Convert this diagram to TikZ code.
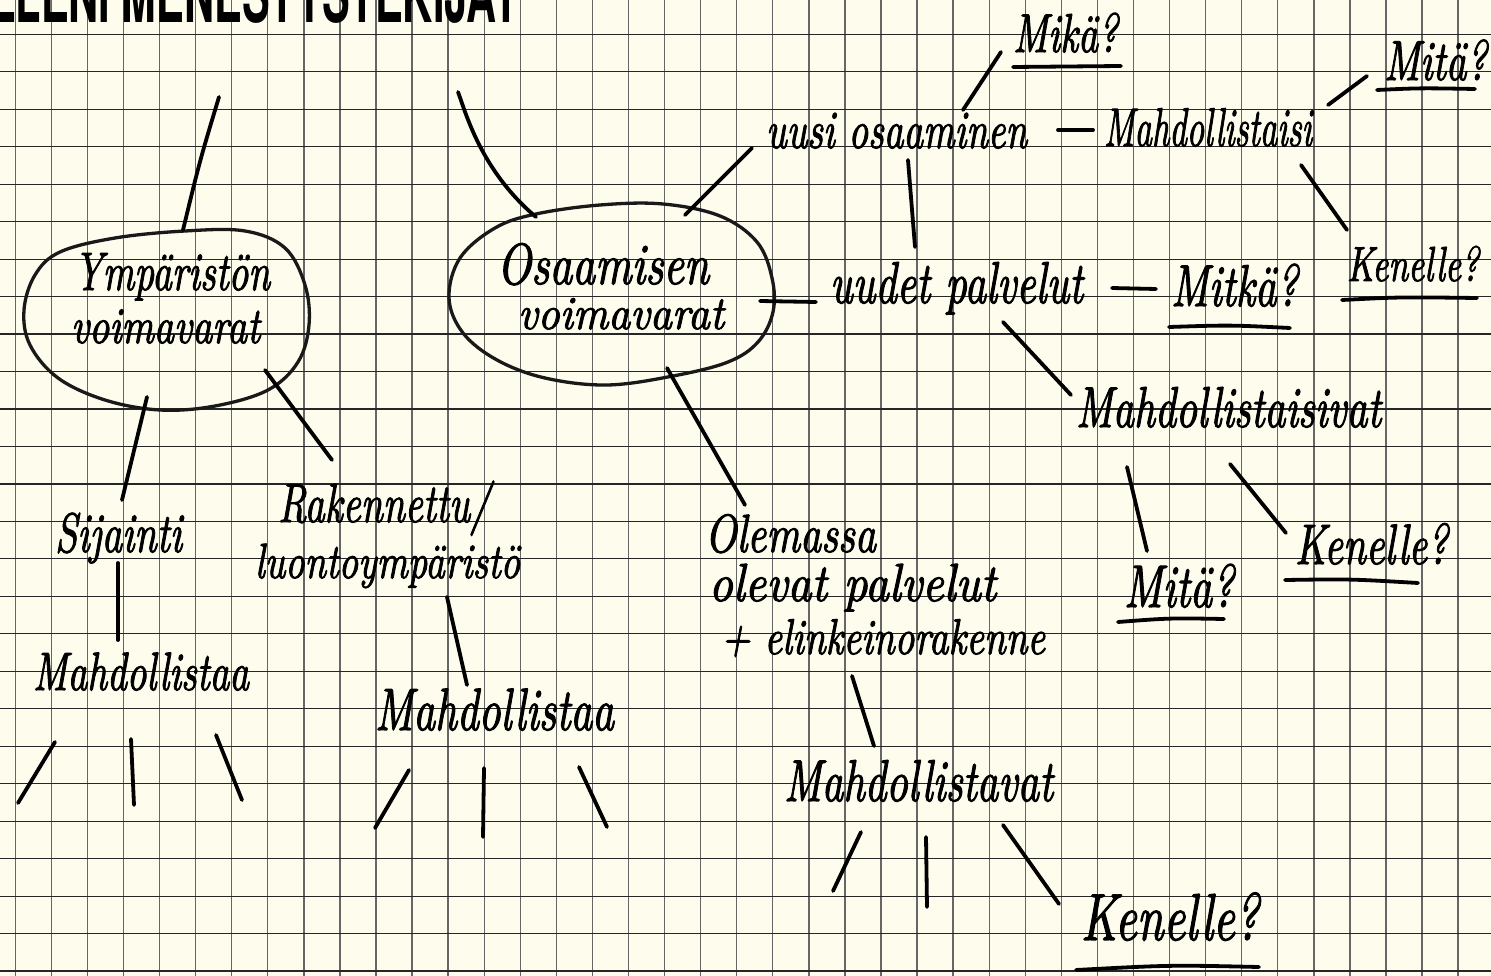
\documentclass[tikz,border=0pt]{standalone}
\usepackage{fontspec}
\newfontfamily\titlefont{TeX Gyre Heros}
\newfontfamily\handfont{lmroman10-italic.otf}[FakeBold=2]
\definecolor{paper}{HTML}{FEFCEC}
\newcommand{\hw}[3][1.4]{\resizebox{#2pt}{!}{\scalebox{1}[#1]{\handfont #3}}}
\begin{document}
\begin{tikzpicture}[x=1pt,y=-1pt,
  hgrid/.style={draw=black!85, line width=1.2pt},
  vgrid/.style={draw=black!60, line width=1.4pt},
  pen/.style={line width=3.8pt, line cap=round, line join=round, draw=black},
  blob/.style={line width=3.3pt, draw=black!90, line join=round},
  uline/.style={line width=3.8pt, line cap=round, draw=black},
  hand/.style={anchor=base west, inner sep=0pt, outer sep=0pt},
]
\useasboundingbox (0,0) rectangle (1491,976);
\clip (0,0) rectangle (1491,976);
\fill[paper] (0,0) rectangle (1491,976);
\foreach \i in {0,...,41} \draw[vgrid] ({15.3+36.07*\i},0) -- ({15.3+36.07*\i},976);
\foreach \j in {0,...,25} \draw[hgrid] (0,{34.3+37.47*\j}) -- (1491,{34.3+37.47*\j});

% title (cut off at the top)
\node[anchor=base west, inner sep=0pt] (title) at (-40,23)
  {\scalebox{0.52}[1]{\titlefont\bfseries\fontsize{80}{80}\selectfont ULLENI MENESTYSTEKIJÄT}};

% blobs
\draw[blob] plot[smooth cycle, tension=0.6] coordinates {(185,231) (245,231) (285,248) (305,285) (309,325) (298,362) (268,390) (215,406) (160,410) (105,400) (58,378) (30,345) (24,310) (35,275) (60,252) (115,238)};
\draw[blob] plot[smooth cycle, tension=0.6] coordinates {(536,214) (600,205) (663,204) (720,216) (757,242) (772,278) (773,312) (758,342) (728,362) (673,376) (607,385) (545,378) (497,360) (463,333) (449,298) (460,258) (495,228)};

% texts
\node[hand] (ymp) at (74,290) {\hw{196}{Ympäristön}};
\node[hand] (voim1) at (71,343) {\hw[1.3]{189}{voimavarat}};
\node[hand] (osa) at (497,284) {\hw[1.3]{212}{Osaamisen}};
\node[hand] (voim2) at (518,329) {\hw[1.1]{206}{voimavarat}};
\node[hand] (uusi) at (766,148) {\hw{261}{uusi osaaminen}};
\node[hand] (mika) at (1013,52) {\hw{105}{Mikä?}};
\node[hand] (mahd1) at (1104,146) {\hw[1.6]{208}{Mahdollistaisi}};
\node[hand] (mita1) at (1384,80) {\hw{103}{Mitä?}};
\node[hand] (ken1) at (1347,281) {\hw{132}{Kenelle?}};
\node[hand] (uudet) at (830,303) {\hw{253}{uudet palvelut}};
\node[hand] (mitka) at (1171,306) {\hw{127}{Mitkä?}};
\node[hand] (mahd2) at (1076,427) {\hw{305}{Mahdollistaisivat}};
\node[hand] (mita2) at (1124,607) {\hw{110}{Mitä?}};
\node[hand] (ken2) at (1295,564) {\hw{153}{Kenelle?}};
\node[hand] (ole1) at (705,552) {\hw[1.3]{171}{Olemassa}};
\node[hand] (ole2) at (709,601) {\hw[1.15]{287}{olevat palvelut}};
\node[hand] (ole3) at (721,654) {\hw[1.3]{324}{+ elinkeinorakenne}};
\node[hand] (mahd3) at (784,801) {\hw{269}{Mahdollistavat}};
\node[hand] (ken3) at (1081,940) {\hw{178}{Kenelle?}};
\node[hand] (sij) at (55,552) {\hw{127}{Sijainti}};
\node[hand] (mahd4) at (33,690) {\hw{216}{Mahdollistaa}};
\node[hand] (rak) at (278,522) {\hw{212}{Rakennettu/}};
\node[hand] (luon) at (255,578) {\hw[1.3]{265}{luontoympäristö}};
\node[hand] (mahd5) at (375,730) {\hw{239}{Mahdollistaa}};

% underlines
\draw[uline] (1013,67) -- (1121,66);
\draw[uline] (1377,90) .. controls (1420,88) .. (1475,89);
\draw[uline] (1342,300) .. controls (1400,297) .. (1477,298);
\draw[uline] (1169,327) .. controls (1230,325) .. (1290,328);
\draw[uline] (1118,622) .. controls (1170,618) .. (1224,619);
\draw[uline] (1285,580) .. controls (1350,579) .. (1418,583);
\draw[uline] (1076,970) .. controls (1170,965) .. (1259,967);

% connector end points
\coordinate (a1) at (183,230); \coordinate (a2) at (219,97);
\coordinate (b1) at (536,217); \coordinate (b2) at (458,92);
\coordinate (c1) at (685,215); \coordinate (c2) at (752,148);
\coordinate (d1) at (963,110); \coordinate (d2) at (1001,52);
\coordinate (e1) at (1058,130); \coordinate (e2) at (1093,130);
\coordinate (f1) at (1328,105); \coordinate (f2) at (1367,76);
\coordinate (g1) at (1301,165); \coordinate (g2) at (1347,230);
\coordinate (h1) at (908,160); \coordinate (h2) at (915,247);
\coordinate (i1) at (760,301); \coordinate (i2) at (816,302);
\coordinate (j1) at (1112,288); \coordinate (j2) at (1156,289);
\coordinate (k1) at (1003,322); \coordinate (k2) at (1071,395);
\coordinate (l1) at (1127,467); \coordinate (l2) at (1147,551);
\coordinate (m1) at (1230,464); \coordinate (m2) at (1286,533);
\coordinate (n1) at (667,368); \coordinate (n2) at (745,505);
\coordinate (o1) at (852,676); \coordinate (o2) at (874,746);
\coordinate (p1) at (861,832); \coordinate (p2) at (833,891);
\coordinate (q1) at (926,837); \coordinate (q2) at (927,907);
\coordinate (r1) at (1003,825); \coordinate (r2) at (1059,904);
\coordinate (s1) at (147,397); \coordinate (s2) at (122,500);
\coordinate (t1) at (118,563); \coordinate (t2) at (118,640);
\coordinate (u1) at (55,742); \coordinate (u2) at (18,803);
\coordinate (v1) at (131,739); \coordinate (v2) at (134,805);
\coordinate (w1) at (216,735); \coordinate (w2) at (242,800);
\coordinate (x1) at (265,370); \coordinate (x2) at (332,460);
\coordinate (y1) at (447,597); \coordinate (y2) at (467,685);
\coordinate (z1) at (409,770); \coordinate (z2) at (375,828);
\coordinate (zz1) at (484,768); \coordinate (zz2) at (483,837);
\coordinate (zy1) at (579,767); \coordinate (zy2) at (607,827);

% connectors
\draw[pen] (a1) .. controls (200,160) .. (a2);
\draw[pen] (b1) .. controls (480,170) and (465,110) .. (b2);
\draw[pen] (c1) -- (c2);
\draw[pen] (d1) -- (d2);
\draw[pen] (e1) -- (e2);
\draw[pen] (f1) -- (f2);
\draw[pen] (g1) -- (g2);
\draw[pen] (h1) -- (h2);
\draw[pen] (i1) -- (i2);
\draw[pen] (j1) -- (j2);
\draw[pen] (k1) -- (k2);
\draw[pen] (l1) -- (l2);
\draw[pen] (m1) -- (m2);
\draw[pen] (n1) -- (n2);
\draw[pen] (o1) -- (o2);
\draw[pen] (p1) -- (p2);
\draw[pen] (q1) -- (q2);
\draw[pen] (r1) -- (r2);
\draw[pen] (s1) -- (s2);
\draw[pen] (t1) -- (t2);
\draw[pen] (u1) -- (u2);
\draw[pen] (v1) -- (v2);
\draw[pen] (w1) -- (w2);
\draw[pen] (x1) -- (x2);
\draw[pen] (y1) -- (y2);
\draw[pen] (z1) -- (z2);
\draw[pen] (zz1) -- (zz2);
\draw[pen] (zy1) -- (zy2);
\end{tikzpicture}
\end{document}
